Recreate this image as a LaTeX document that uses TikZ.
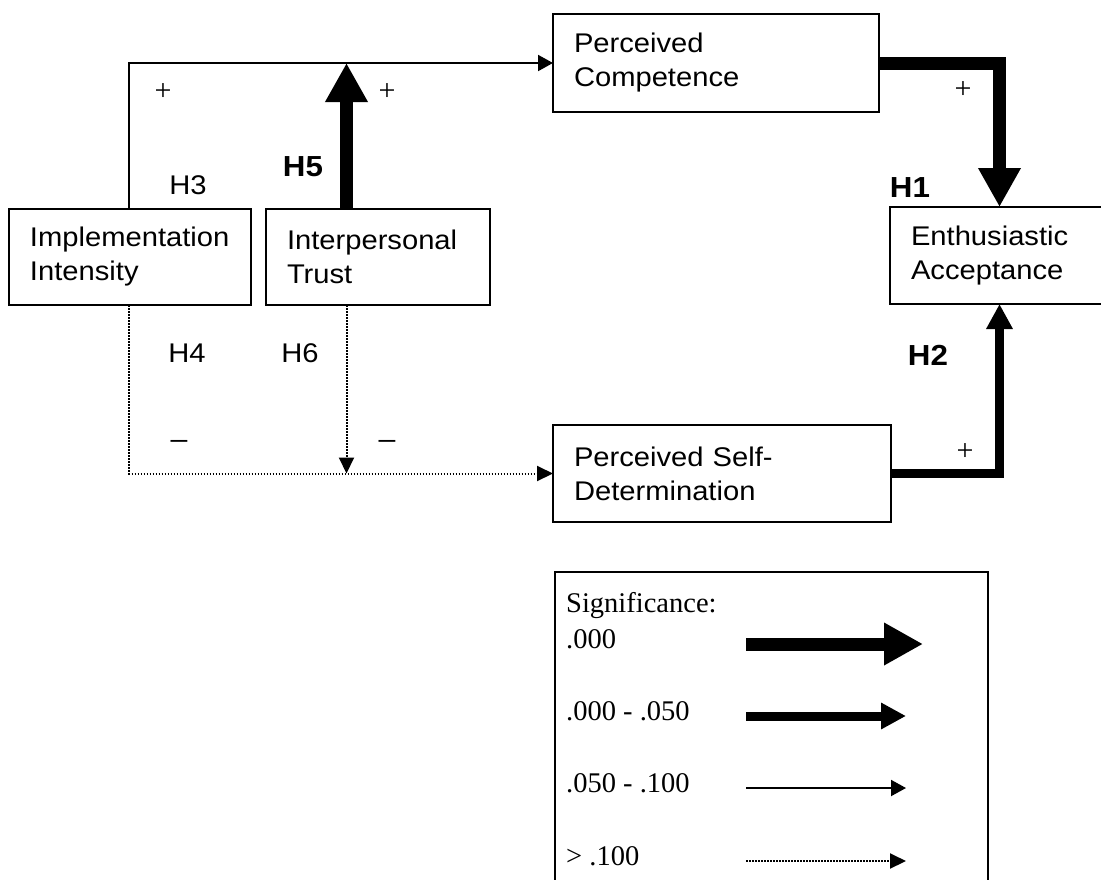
\documentclass[tikz,border=0pt]{standalone}
\usepackage{fontspec}
\usetikzlibrary{arrows.meta}
\newfontfamily\arialf[FakeStretch=1.08]{Liberation Sans}
\newfontfamily\timesf{Liberation Serif}
\begin{document}
\begin{tikzpicture}[x=1pt,y=-1pt,
  box/.style={draw,line width=2pt,rectangle,anchor=north west,outer sep=0pt,
    inner xsep=21pt,inner ysep=0pt,align=left,
    font=\arialf\fontsize{27}{34}\selectfont},
  lbl/.style={font=\arialf\fontsize{27}{30}\selectfont,inner sep=0pt},
  sgn/.style={font=\timesf\fontsize{30}{30}\selectfont,inner sep=0pt},
  dsh/.style={font=\arialf\fontsize{28}{30}\selectfont,inner sep=0pt},
  hlbl/.style={font=\arialf\bfseries\fontsize{29}{30}\selectfont,inner sep=0pt},
  leg/.style={font=\timesf\fontsize{28.5}{32}\selectfont,anchor=base west,inner sep=0pt},
  thinarr/.style={line width=2pt,-{Triangle[width=16pt,length=15pt]}},
  dotarr/.style={line width=2pt,dash pattern=on 1.5pt off 1.5pt,-{Triangle[width=15pt,length=16pt]}},
  thickarr/.style={line width=13pt,-{Triangle[width=40pt,length=39pt]}},
  medarr/.style={line width=9pt,-{Triangle[width=25pt,length=25pt]}}]
\clip (0,0) rectangle (1101,879);
% boxes
\node[box,minimum width=242pt,minimum height=96pt,text width=200pt] (impl) at (9,209) {Implementation\\Intensity};
\node[box,minimum width=224pt,minimum height=96pt,text width=182pt] (trust) at (266,209) {Interpersonal\\Trust};
\node[box,minimum width=326pt,minimum height=98pt,text width=284pt] (comp) at (553,14) {Perceived\\Competence};
\node[box,minimum width=225pt,minimum height=97pt,text width=183pt] (enth) at (890,207) {Enthusiastic\\Acceptance};
\node[box,minimum width=338pt,minimum height=97pt,text width=296pt] (psd) at (553,425) {Perceived Self-\\Determination};
% connector corner points
\coordinate (h3top) at (129,63);
\coordinate (h5top) at (346.5,63);
\coordinate (c1) at (999.5,63);
\coordinate (c2) at (999.5,473.5);
\coordinate (h4bot) at (129,473.5);
\coordinate (h6bot) at (346.5,473.5);
% connectors
\draw[thinarr] (h3top |- impl.north) -- (h3top) -- (h3top -| comp.west);
\draw[thickarr] (h5top |- trust.north) -- (h5top);
\draw[thickarr] (comp.east) -- (c1) -- (c1 |- enth.north);
\draw[medarr] (psd.east) -- (c2) -- (c2 |- enth.south);
\draw[dotarr] (h4bot |- impl.south) -- (h4bot) -- (h4bot -| psd.west);
\draw[dotarr] (h6bot |- trust.south) -- (h6bot);
% signs and labels
\node[sgn] (p3) at (163,92) {+};
\node[sgn] (p5) at (387,92) {+};
\node[sgn] (p1) at (963,90) {+};
\node[sgn] (p2) at (965,452) {+};
\node[dsh] (m4) at (179,444) {–};
\node[dsh] (m6) at (387,444) {–};
\node[lbl] (lh3) at (188,185) {H3};
\node[lbl] (lh4) at (187,353) {H4};
\node[lbl] (lh6) at (300,353) {H6};
\node[hlbl] (lh5) at (303,167) {H5};
\node[hlbl] (lh1) at (910,188) {H1};
\node[hlbl] (lh2) at (928,355) {H2};
% legend
\node[draw,line width=2pt,anchor=north west,outer sep=0pt,minimum width=433pt,minimum height=330pt] (legend) at (555,572) {};
\node[leg] (sig) at (566,612) {Significance:};
\node[leg] (s1) at (566,648) {.000};
\node[leg] (s2) at (566,720) {.000 - .050};
\node[leg] (s3) at (566,792) {.050 - .100};
\node[leg] (s4) at (566,865) {> .100};
\coordinate (a1s) at (746,644); \coordinate (a1e) at (923,644);
\coordinate (a2s) at (746,716); \coordinate (a2e) at (906,716);
\coordinate (a3s) at (746,788); \coordinate (a3e) at (906,788);
\coordinate (a4s) at (746,861); \coordinate (a4e) at (906,861);
\draw[thickarr] (a1s) -- (a1e);
\draw[medarr] (a2s) -- (a2e);
\draw[thinarr] (a3s) -- (a3e);
\draw[dotarr] (a4s) -- (a4e);
\end{tikzpicture}
\end{document}
